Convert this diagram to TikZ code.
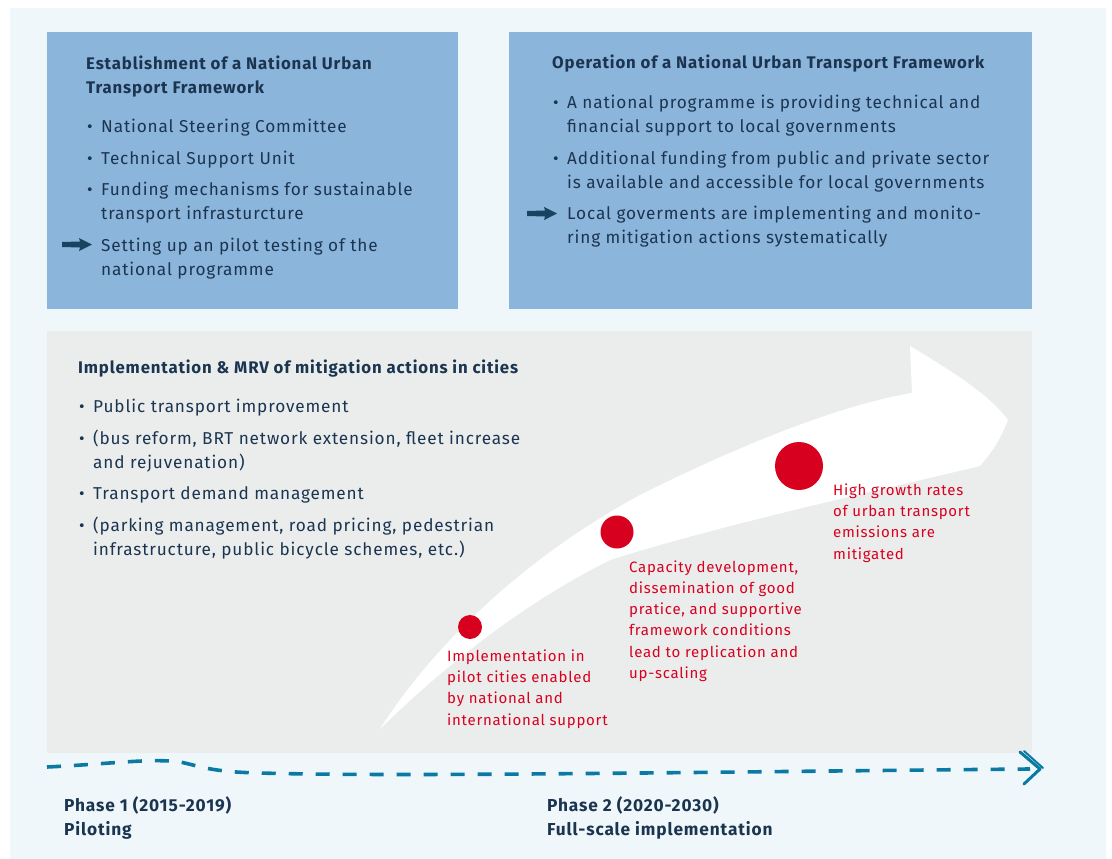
\documentclass[tikz,border=0pt]{standalone}
\usepackage{fontspec}
\setmainfont{Fira Sans}[LetterSpace=5]
\definecolor{bgc}{HTML}{EFF7FA}
\definecolor{boxc}{HTML}{8CB5DC}
\definecolor{panelc}{HTML}{EBEDED}
\definecolor{navy}{HTML}{1B3550}
\definecolor{redc}{HTML}{D8001F}
\definecolor{teal}{HTML}{0B7AA3}
\tikzset{
  txt/.style={anchor=base west, inner sep=0pt, text=navy, align=left, font=\fontsize{17.2}{24}\selectfont},
  ttl/.style={txt, font=\fontsize{16.8}{24}\selectfont\bfseries},
  phs/.style={txt, font=\fontsize{17.3}{24}\selectfont\bfseries},
  bul/.style={anchor=base west, inner sep=0pt, text=navy, font=\fontsize{17}{24}\selectfont},
  rtxt/.style={anchor=base west, inner sep=0pt, text=redc, align=left, font=\fontsize{15}{21.3}\selectfont},
  dot/.style={circle, fill=redc, inner sep=0pt},
  icon/.style={fill=navy!80!teal},
}
\begin{document}
\begin{tikzpicture}[x=1pt,y=-1pt]
\useasboundingbox (0,0) rectangle (1112,859);
\fill[bgc] (10,8) rectangle (1106,859);
% boxes
\fill[boxc] (47,32) rectangle (458,309);
\fill[boxc] (509,32) rectangle (1032,309);
\fill[panelc] (47,331) rectangle (1032,753);
% left box (base anchor = last line baseline)
\node[ttl] (t1) at (86,93) {Establishment of a National Urban\\Transport Framework};
\node[bul] (b11) at (87,132) {•};
\node[txt] (l11) at (101,132) {National Steering Committee};
\node[bul] (b12) at (87,164) {•};
\node[txt] (l12) at (101,164) {Technical Support Unit};
\node[bul] (b13) at (87,195) {•};
\node[txt] (l13) at (101,219) {Funding mechanisms for sustainable\\transport infrasturcture};
\node[txt] (l14) at (101,275) {Setting up an pilot testing of the\\national programme};
\fill[icon] (62,242) -- (80,241.5) -- (79,238) -- (92,244.5) -- (79,251) -- (80,247.5) -- (62,247) -- cycle;
% right box
\node[ttl] (t2) at (552,69) {Operation of a National Urban Transport Framework};
\node[bul] (b21) at (553,108) {•};
\node[txt] (l21) at (567,132) {A national programme is providing technical and\\financial support to local governments};
\node[bul] (b22) at (553,164) {•};
\node[txt] (l22) at (567,188) {Additional funding from public and private sector\\is available and accessible for local governments};
\node[txt] (l23) at (567,243) {Local goverments are implementing and monito-\\ring mitigation actions systematically};
\fill[icon] (527,211) -- (545,210.5) -- (544,207) -- (557,213.5) -- (544,220) -- (545,216.5) -- (527,216) -- cycle;
% white brush arrow
\fill[white] (380,729) .. controls (430,650) and (520,560) .. (640,495)
  .. controls (740,445) and (840,405) .. (912,393) -- (910,346)
  .. controls (950,370) and (990,395) .. (1008,420)
  .. controls (1000,440) and (992,452) .. (980,466)
  .. controls (880,490) and (720,525) .. (610,560)
  .. controls (510,610) and (430,680) .. (380,729) -- cycle;
% panel text
\node[ttl] (t3) at (78,373) {Implementation \& MRV of mitigation actions in cities};
\node[bul] (b31) at (79,412) {•};
\node[txt] (l31) at (93,412) {Public transport improvement};
\node[bul] (b32) at (79,444) {•};
\node[txt] (l32) at (93,468) {(bus reform, BRT network extension, fleet increase\\and rejuvenation)};
\node[bul] (b33) at (79,499) {•};
\node[txt] (l33) at (93,499) {Transport demand management};
\node[bul] (b34) at (79,531) {•};
\node[txt] (l34) at (93,555) {(parking management, road pricing, pedestrian\\infrastructure, public bicycle schemes, etc.)};
% red dots
\node[dot, minimum size=24pt] (d1) at (470,627) {};
\node[dot, minimum size=33pt] (d2) at (617,532) {};
\node[dot, minimum size=48pt] (d3) at (799,466) {};
\node[rtxt] (r1) at (447,725) {Implementation in\\pilot cities enabled\\by national and\\international support};
\node[rtxt] (r2) at (629,678.5) {Capacity development,\\dissemination of good\\pratice, and supportive\\framework conditions\\lead to replication and\\up-scaling};
\node[rtxt] (r3) at (833,559) {High growth rates\\of urban transport\\emissions are\\mitigated};
% timeline
\coordinate (s) at (47,767);
\coordinate (e) at (1030,769);
\draw[teal, line width=3.6pt, dash pattern=on 14pt off 13pt] (s) .. controls (110,764) and (150,758) .. (180,762)
  .. controls (200,766) and (210,772) .. (260,773) .. controls (400,777) and (700,772) .. (e);
\draw[teal, line width=3pt, line cap=round, line join=round] (1020,752) -- (1040,769) -- (1024,784);
\draw[teal, line width=2pt, line cap=round] (1024,751) -- (1043,768);
% phases
\node[phs] (p1) at (64,835) {Phase 1 (2015-2019)\\Piloting};
\node[phs] (p2) at (547,835) {Phase 2 (2020-2030)\\Full-scale implementation};
\end{tikzpicture}
\end{document}
